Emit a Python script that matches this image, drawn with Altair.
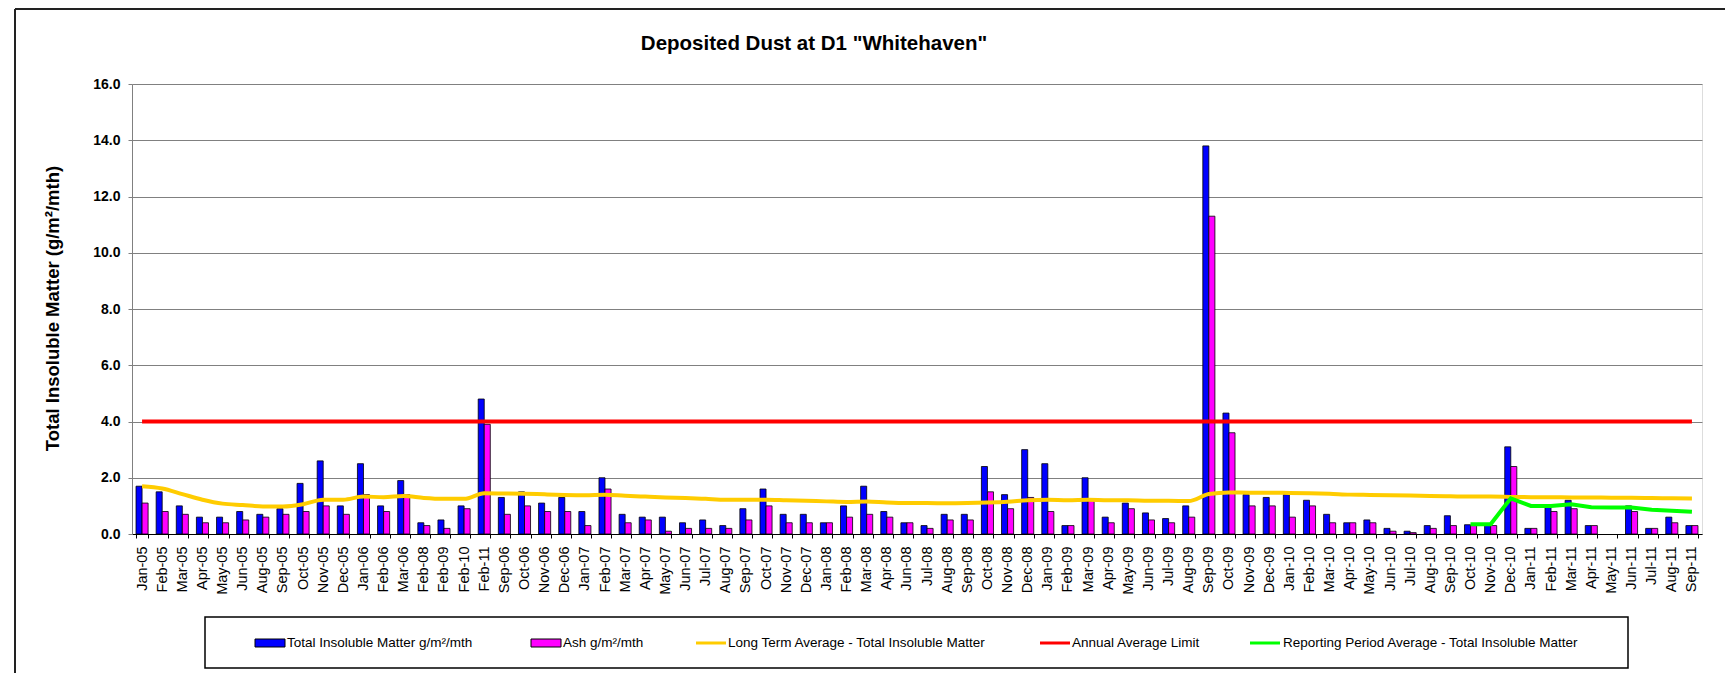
import altair as alt
import pandas as pd

# ---------------- data ----------------
labels = ["Jan-05", "Feb-05", "Mar-05", "Apr-05", "May-05", "Jun-05", "Aug-05", "Sep-05", "Oct-05", "Nov-05",
          "Dec-05", "Jan-06", "Feb-06", "Mar-06", "Feb-08", "Feb-09", "Feb-10", "Feb-11", "Sep-06", "Oct-06",
          "Nov-06", "Dec-06", "Jan-07", "Feb-07", "Mar-07", "Apr-07", "May-07", "Jun-07", "Jul-07", "Aug-07",
          "Sep-07", "Oct-07", "Nov-07", "Dec-07", "Jan-08", "Feb-08", "Mar-08", "Apr-08", "Jun-08", "Jul-08",
          "Aug-08", "Sep-08", "Oct-08", "Nov-08", "Dec-08", "Jan-09", "Feb-09", "Mar-09", "Apr-09", "May-09",
          "Jun-09", "Jul-09", "Aug-09", "Sep-09", "Oct-09", "Nov-09", "Dec-09", "Jan-10", "Feb-10", "Mar-10",
          "Apr-10", "May-10", "Jun-10", "Jul-10", "Aug-10", "Sep-10", "Oct-10", "Nov-10", "Dec-10", "Jan-11",
          "Feb-11", "Mar-11", "Apr-11", "May-11", "Jun-11", "Jul-11", "Aug-11", "Sep-11"]

total_insoluble = [1.7, 1.5, 1.0, 0.6, 0.6, 0.8, 0.7, 0.9, 1.8, 2.6,
                   1.0, 2.5, 1.0, 1.9, 0.4, 0.5, 1.0, 4.8, 1.3, 1.5,
                   1.1, 1.3, 0.8, 2.0, 0.7, 0.6, 0.6, 0.4, 0.5, 0.3,
                   0.9, 1.6, 0.7, 0.7, 0.4, 1.0, 1.7, 0.8, 0.4, 0.3,
                   0.7, 0.7, 2.4, 1.4, 3.0, 2.5, 0.3, 2.0, 0.6, 1.1,
                   0.75, 0.55, 1.0, 13.8, 4.3, 1.4, 1.3, 1.4, 1.2, 0.7,
                   0.4, 0.5, 0.2, 0.1, 0.3, 0.65, 0.33, 0.33, 3.1, 0.2,
                   0.95, 1.2, 0.3, None, 1.0, 0.2, 0.6, 0.3]

ash = [1.1, 0.8, 0.7, 0.4, 0.4, 0.5, 0.6, 0.7, 0.8, 1.0,
       0.7, 1.4, 0.8, 1.4, 0.3, 0.2, 0.9, 3.9, 0.7, 1.0,
       0.8, 0.8, 0.3, 1.6, 0.4, 0.5, 0.1, 0.2, 0.2, 0.2,
       0.5, 1.0, 0.4, 0.4, 0.4, 0.6, 0.7, 0.6, 0.4, 0.2,
       0.5, 0.5, 1.5, 0.9, 1.3, 0.8, 0.3, 1.2, 0.4, 0.9,
       0.5, 0.4, 0.6, 11.3, 3.6, 1.0, 1.0, 0.6, 1.0, 0.4,
       0.4, 0.4, 0.1, 0.05, 0.2, 0.3, 0.3, 0.3, 2.4, 0.2,
       0.8, 0.9, 0.3, None, 0.8, 0.2, 0.4, 0.3]

long_term_avg = [1.70, 1.62, 1.42, 1.22, 1.08, 1.03, 0.98, 0.98, 1.06, 1.22,
                 1.22, 1.33, 1.31, 1.35, 1.28, 1.25, 1.25, 1.45, 1.44, 1.43,
                 1.41, 1.39, 1.38, 1.40, 1.36, 1.33, 1.30, 1.28, 1.25, 1.22,
                 1.22, 1.22, 1.20, 1.18, 1.16, 1.14, 1.16, 1.12, 1.10, 1.10,
                 1.09, 1.10, 1.12, 1.15, 1.20, 1.22, 1.20, 1.22, 1.20, 1.20,
                 1.18, 1.18, 1.17, 1.42, 1.48, 1.47, 1.47, 1.46, 1.45, 1.43,
                 1.40, 1.39, 1.38, 1.37, 1.35, 1.34, 1.33, 1.33, 1.32, 1.31,
                 1.31, 1.30, 1.30, 1.29, 1.29, 1.28, 1.27, 1.26]

annual_limit_value = 4.0

reporting_avg = [None] * 66 + [0.35, 0.35, 1.27, 1.0, 1.0, 1.06, 0.95, 0.94, 0.94, 0.86, 0.83, 0.79]

legend_labels = ["Total Insoluble Matter  g/m²/mth", "Ash  g/m²/mth",
                 "Long Term Average - Total Insoluble Matter", "Annual Average Limit",
                 "Reporting Period Average - Total Insoluble Matter"]
legend_kinds = ["bar", "bar", "line", "line", "line"]
legend_colors = ["#0000FF", "#FF00FF", "#FFCC00", "#FF0000", "#00FF00"]

title_text = 'Deposited Dust at D1 "Whitehaven"'
y_title = "Total Insoluble Matter  (g/m²/mth)"
y_ticks = [0, 2, 4, 6, 8, 10, 12, 14, 16]

# ---------------- layout ----------------
FONT = "Liberation Sans"
W, H = 1570, 450
legend_swatch_x = [123, 399, 564, 908, 1118]
legend_text_x = [155, 431, 596, 940, 1151]
legend_y = 559

n = len(labels)
label_expr = "[" + ",".join("'" + l + "'" for l in labels) + "][datum.value]"

bar_rows = []
for i in range(n):
    if total_insoluble[i] is not None:
        bar_rows.append({"i": i, "s": "tim", "v": total_insoluble[i]})
    if ash[i] is not None:
        bar_rows.append({"i": i, "s": "ash", "v": ash[i]})
bars_df = pd.DataFrame(bar_rows)
lta_df = pd.DataFrame({"i": list(range(n)), "v": long_term_avg})
lim_df = pd.DataFrame({"i": list(range(n)), "v": [annual_limit_value] * n})
rpa_df = pd.DataFrame([{"i": i, "v": v} for i, v in enumerate(reporting_avg) if v is not None])

x_scale = alt.Scale(paddingInner=0.4, paddingOuter=0.2)
x_axis = alt.Axis(labelExpr=label_expr, labelAngle=270, labelAlign="right", labelBaseline="middle",
                  labelFontSize=14.5, labelPadding=8, labelOverlap=False, tickBand="extent",
                  tickSize=4, domainColor="#000000", tickColor="#000000", grid=False,
                  labelColor="#000000", labelFont=FONT)
y_scale = alt.Scale(domain=[0, 16], nice=False)
y_axis = alt.Axis(values=y_ticks, format=".1f", labelFontSize=14, labelFontWeight="bold", labelFont=FONT,
                  labelColor="#000000", tickSize=4, labelPadding=8, grid=True, gridColor="#808080",
                  domainColor="#808080", tickColor="#808080", title=y_title, titleFontSize=18.5,
                  titleFontWeight="bold", titleFont=FONT, titleColor="#000000", titleX=-80, titleY=224,
                  titleAngle=270, titleAlign="center", titleBaseline="middle")

X = alt.X("i:O", scale=x_scale, axis=x_axis, title=None)
Y = alt.Y("v:Q", scale=y_scale, axis=y_axis)

bars = alt.Chart(bars_df).mark_bar(stroke="#000000", strokeWidth=0.8).encode(
    x=X,
    xOffset=alt.XOffset("s:N", scale=alt.Scale(domain=["tim", "ash"], paddingInner=0, paddingOuter=0)),
    y=Y,
    color=alt.Color("s:N", scale=alt.Scale(domain=["tim", "ash"], range=legend_colors[:2]), legend=None),
)
lta_line = alt.Chart(lta_df).mark_line(color=legend_colors[2], strokeWidth=4, interpolate="monotone").encode(x=X, y=Y)
lim_line = alt.Chart(lim_df).mark_line(color=legend_colors[3], strokeWidth=4).encode(x=X, y=Y)
rpa_line = alt.Chart(rpa_df).mark_line(color=legend_colors[4], strokeWidth=4).encode(x=X, y=Y)

one = pd.DataFrame({"a": [0]})
deco = []
# legend box
deco.append(alt.Chart(one).mark_rect(fill="#ffffff", fillOpacity=0, stroke="#000000", strokeWidth=1.5).encode(
    x=alt.value(73), x2=alt.value(1496), y=alt.value(533), y2=alt.value(584)))
for k in range(len(legend_labels)):
    sx = legend_swatch_x[k]
    if legend_kinds[k] == "bar":
        deco.append(alt.Chart(one).mark_rect(color=legend_colors[k], stroke="#000000", strokeWidth=1).encode(
            x=alt.value(sx), x2=alt.value(sx + 30), y=alt.value(legend_y - 4), y2=alt.value(legend_y + 4)))
    else:
        deco.append(alt.Chart(one).mark_rule(color=legend_colors[k], strokeWidth=3).encode(
            x=alt.value(sx), x2=alt.value(sx + 30), y=alt.value(legend_y)))
    deco.append(alt.Chart(one).mark_text(align="left", baseline="middle", fontSize=13.5, font=FONT,
                                         color="#000000").encode(
        x=alt.value(legend_text_x[k]), y=alt.value(legend_y), text=alt.value(legend_labels[k])))
# title
deco.append(alt.Chart(one).mark_text(align="center", baseline="middle", fontSize=20.5, fontWeight="bold",
                                     font=FONT, color="#000000").encode(
    x=alt.value(682), y=alt.value(-40), text=alt.value(title_text)))
# outer frame (left and top edges)
deco.append(alt.Chart(one).mark_rule(color="#222222", strokeWidth=2).encode(
    x=alt.value(-117), y=alt.value(-75), y2=alt.value(620)))
deco.append(alt.Chart(one).mark_rule(color="#222222", strokeWidth=2).encode(
    x=alt.value(-117), x2=alt.value(1620), y=alt.value(-75)))

chart = alt.layer(bars, lta_line, lim_line, rpa_line, *deco).properties(
    width=W, height=H,
    autosize=alt.AutoSizeParams(type="none"),
    padding={"left": 124, "top": 76, "right": 23, "bottom": 139},
    background="#ffffff",
).configure_view(stroke="#808080", strokeWidth=1).configure(font=FONT)

chart.save("out.html", embed_options={"renderer": "svg", "actions": False})
